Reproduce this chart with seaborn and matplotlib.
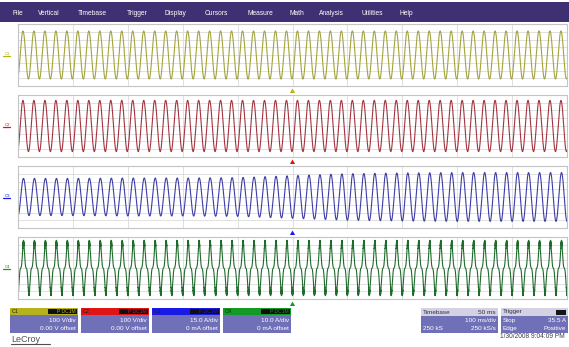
import numpy as np
import pandas as pd
import matplotlib
matplotlib.use("Agg")
import matplotlib.pyplot as plt
import seaborn as sns
from matplotlib.patches import Rectangle, Polygon

# ---- acquisition data -------------------------------------------------------
CHANNELS = ["C1", "C2", "C3", "C4"]
LINE_FREQ_HZ = 50.0          # mains frequency of the captured signals
SPAN_S = 1.0                 # 10 divisions x 100 ms/div
PEAK_TIME_S = [0.009, 0.009, 0.010, 0.010]   # time of first positive peak
AMPL_DIV = [3.1, 3.3, 2.5, 3.0]              # peak amplitude in divisions
# C3 envelope (divisions) read at each horizontal division 0..10
C3_ENVELOPE_DIV = [2.4, 2.4, 2.45, 2.45, 2.5, 2.75, 3.0, 3.1, 3.15, 3.15, 3.15]
C4_THIRD_HARMONIC = 0.3      # relative 3rd harmonic in the C4 current
C4_RIPPLE_DIV = 0.6          # switching ripple riding on the C4 peaks
C4_RIPPLE_HZ = 1250.0

MENU_ITEMS = ["File", "Vertical", "Timebase", "Trigger", "Display", "Cursors",
              "Measure", "Math", "Analysis", "Utilities", "Help"]
VDIV_TEXT = ["100 V/div", "100 V/div", "15.0 A/div", "10.0 A/div"]
OFFSET_TEXT = ["0.00 V offset", "0.00 V offset", "0 mA offset", "0 mA offset"]
TIMEBASE_ROWS = [("Timebase", "50 ms"), ("", "100 ms/div"), ("250 kS", "250 kS/s")]
TRIGGER_ROWS = [("Trigger", ""), ("Stop", "35.5 A"), ("Edge", "Positive")]
DATE_TEXT = "1/30/2008 9:04:09 PM"

# ---- styling ------------------------------------------------------------------
TRACE_COLORS = ["#a3a43c", "#a3343f", "#3d3da6", "#1f6b2c"]
HEADER_COLORS = ["#b5b21e", "#e01414", "#1a1ae6", "#139a26"]
BOX_BODY = "#7070b8"
MENU_BG = "#3e3072"

W, H = 569, 347
sns.set_theme(style="white")
plt.rcParams["font.family"] = ["Liberation Sans", "DejaVu Sans"]

fig = plt.figure(figsize=(W / 100, H / 100), dpi=100)
fig.patch.set_facecolor("white")

# overlay axes in pixel coordinates (y grows downward)
ov = fig.add_axes([0, 0, 1, 1], zorder=0)
ov.set_xlim(0, W)
ov.set_ylim(H, 0)
ov.axis("off")


def px_axes(x0, y0, x1, y1, **kw):
    return fig.add_axes([x0 / W, 1 - y1 / H, (x1 - x0) / W, (y1 - y0) / H], **kw)


# ---- menu bar -----------------------------------------------------------------
ov.add_patch(Rectangle((0, 2), W, 20, color=MENU_BG, lw=0))
menu_x = [13, 38, 78, 127, 165, 205, 248, 290, 319, 362, 400]
for label, x in zip(MENU_ITEMS, menu_x):
    ov.text(x, 13, label, color="white", fontsize=4.8, va="center", ha="left")

# ---- waveforms ----------------------------------------------------------------
t = np.linspace(0, SPAN_S, 12001)
div_marks = np.linspace(0, SPAN_S, len(C3_ENVELOPE_DIV))
waves = []
for i, ch in enumerate(CHANNELS):
    theta = 2 * np.pi * LINE_FREQ_HZ * (t - PEAK_TIME_S[i])
    if ch == "C3":
        y = np.interp(t, div_marks, C3_ENVELOPE_DIV) * np.cos(theta)
    elif ch == "C4":
        base = (np.cos(theta) + C4_THIRD_HARMONIC * np.cos(3 * theta)) / (1 + C4_THIRD_HARMONIC)
        ripple = C4_RIPPLE_DIV * np.abs(np.cos(theta)) ** 8 * np.sin(2 * np.pi * C4_RIPPLE_HZ * t)
        y = AMPL_DIV[i] * base + np.sign(base) * np.abs(ripple)
    else:
        y = AMPL_DIV[i] * np.cos(theta)
    waves.append(pd.DataFrame({"time": t, "div": y, "channel": ch}))
df = pd.concat(waves, ignore_index=True)

panel_tops = [24, 95, 166, 237]
panel_h = 62
px0, px1 = 18, 567
for i, ch in enumerate(CHANNELS):
    top = panel_tops[i]
    ax = px_axes(px0, top, px1, top + panel_h, zorder=2)
    sns.lineplot(data=df[df["channel"] == ch], x="time", y="div", ax=ax,
                 color=TRACE_COLORS[i], lw=0.8, estimator=None, legend=False)
    ax.set_xlim(0, SPAN_S)
    ax.set_ylim(-4, 4)
    ax.set_xticks(np.linspace(0, SPAN_S, 11))
    ax.set_yticks(np.arange(-4, 5, 1))
    ax.grid(True, color="#dadada", lw=0.6)
    ax.tick_params(length=0, labelbottom=False, labelleft=False)
    ax.set_xlabel("")
    ax.set_ylabel("")
    for s in ax.spines.values():
        s.set_color("#c4c4c4")
        s.set_linewidth(0.8)

    # channel marker on the left edge
    yc = top + panel_h / 2
    ov.text(10, yc - 1.5, ch, color=HEADER_COLORS[i], fontsize=3.2, ha="right", va="center")
    ov.plot([3, 10], [yc + 1, yc + 1], color=HEADER_COLORS[i], lw=0.9)
    # trigger position marker below each grid
    tx, ty = (px0 + px1) / 2, top + panel_h + 5
    ov.add_patch(Polygon([[tx - 2.6, ty + 2], [tx + 2.6, ty + 2], [tx, ty - 2.5]],
                         color=HEADER_COLORS[i], lw=0))

# ---- channel descriptor boxes -------------------------------------------------
box_x = [10, 81, 152, 223]
box_w = 68
by0, by1 = 308, 333
for i, ch in enumerate(CHANNELS):
    x = box_x[i]
    ov.add_patch(Rectangle((x, by0), box_w, by1 - by0, color=BOX_BODY, lw=0))
    ov.add_patch(Rectangle((x, by0), box_w, 7, color=HEADER_COLORS[i], lw=0))
    ov.add_patch(Rectangle((x + 38, by0 + 0.8), box_w - 39, 5.4, color="#101010", lw=0))
    ov.text(x + 2, by0 + 3.6, ch, fontsize=4, color="#202020", va="center")
    ov.text(x + box_w - 2, by0 + 3.6, "P DC1M", fontsize=3.6,
            color=HEADER_COLORS[i], va="center", ha="right")
    ov.text(x + box_w - 2, by0 + 12, VDIV_TEXT[i], fontsize=4.6, color="white",
            va="center", ha="right")
    ov.text(x + box_w - 2, by0 + 20, OFFSET_TEXT[i], fontsize=4.6, color="white",
            va="center", ha="right")


def info_box(x0, x1, rows):
    ov.add_patch(Rectangle((x0, by0), x1 - x0, by1 - by0, color=BOX_BODY, lw=0))
    ov.add_patch(Rectangle((x0, by0), x1 - x0, 8, color="#d2d2e2", lw=0))
    for r, (left, right) in enumerate(rows):
        yy = by0 + 4 + r * 8.2
        col = "#303040" if r == 0 else "white"
        ov.text(x0 + 2, yy, left, fontsize=4.6, color=col, va="center", ha="left")
        ov.text(x1 - 2, yy, right, fontsize=4.6, color=col, va="center", ha="right")


info_box(421, 498, TIMEBASE_ROWS)
info_box(501, 568, TRIGGER_ROWS)
ov.add_patch(Rectangle((556, by0 + 1.5), 10, 5, color="#151515", lw=0))

ov.text(565, 337, DATE_TEXT, fontsize=4.8, color="#404040", ha="right", va="center")
ov.text(11, 339, "LeCroy", fontsize=6.5, color="#505050", ha="left", va="center")
ov.plot([11, 50], [343.5, 343.5], color="#505050", lw=0.8)

fig.savefig("out.png", dpi=100, facecolor="white")
